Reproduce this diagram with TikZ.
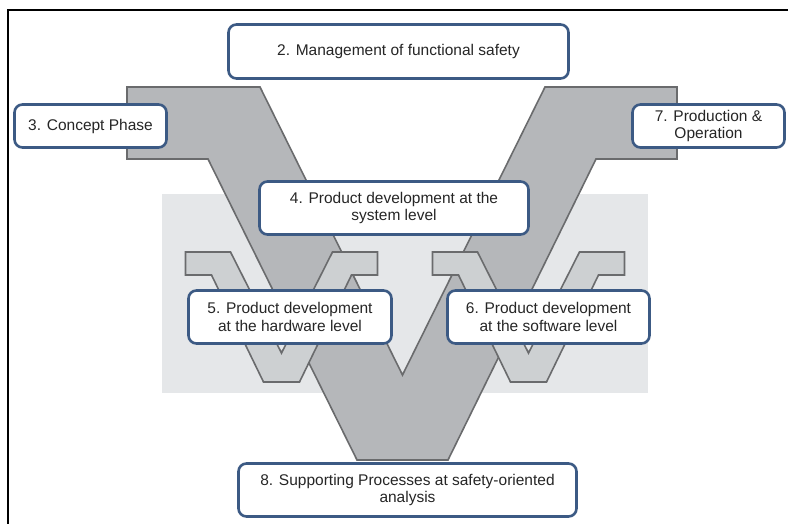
\documentclass[tikz,border=0pt]{standalone}
\usepackage{fontspec}
\setmainfont{Liberation Sans}
\begin{document}
\begin{tikzpicture}[x=1pt,y=-1pt,
  stage/.style={draw=nodeblue, line width=2.6pt, fill=white, rounded corners=8pt,
    align=center, text=black!85, inner sep=2pt,
    font=\fontsize{15.5}{17.5}\selectfont},
  bigv/.style={fill=vgray, draw=vedge, line width=1.6pt, line join=miter},
  smallv/.style={fill=vlight, draw=vedge, line width=1.6pt, line join=miter},
]
\definecolor{nodeblue}{HTML}{3C5A84}
\definecolor{vgray}{HTML}{B5B7BA}
\definecolor{vlight}{HTML}{CDD0D2}
\definecolor{vedge}{HTML}{6A6B6D}
\definecolor{panel}{HTML}{E5E7E9}
\useasboundingbox (0,0) rectangle (788,524);

% outer frame (left and top edges)
\draw[line width=1.6pt] (8,524) -- (8,10) -- (788,10);

% light panel behind the lower-level V's
\fill[panel] (162,194) rectangle (648,393);

% system-level V
\draw[bigv] (127,87) -- (260,87) -- (402.5,375) -- (545,87) -- (677,87)
  -- (677,159) -- (596,159) -- (448,460) -- (357,460) -- (208,159)
  -- (127,159) -- cycle;

% hardware and software V's
\foreach \cx in {281.5,528.5}{
  \draw[smallv] (\cx-96,252) -- (\cx-51,252) -- (\cx,353) -- (\cx+51,252)
    -- (\cx+96,252) -- (\cx+96,275) -- (\cx+70,275) -- (\cx+18,382)
    -- (\cx-18,382) -- (\cx-70,275) -- (\cx-96,275) -- cycle;
}

% process stages
\node[stage, minimum width=340pt, minimum height=54pt] (mgmt) at (398.5,51.5)
  {2. Management of functional safety};
\node[stage, minimum width=152pt, minimum height=43pt] (concept) at (90.5,126)
  {3. Concept Phase};
\node[stage, minimum width=152pt, minimum height=43pt] (prod) at (708.5,126)
  {7. Production \&\\Operation};
\node[stage, minimum width=269pt, minimum height=53pt] (sys) at (394,208)
  {4. Product development at the\\system level};
\node[stage, minimum width=203pt, minimum height=53pt] (hw) at (290,317)
  {5. Product development\\at the hardware level};
\node[stage, minimum width=202pt, minimum height=53pt] (sw) at (548.5,317)
  {6. Product development\\at the software level};
\node[stage, minimum width=338pt, minimum height=53pt] (supp) at (407.5,490)
  {8. Supporting Processes at safety-oriented\\analysis};
\end{tikzpicture}
\end{document}
